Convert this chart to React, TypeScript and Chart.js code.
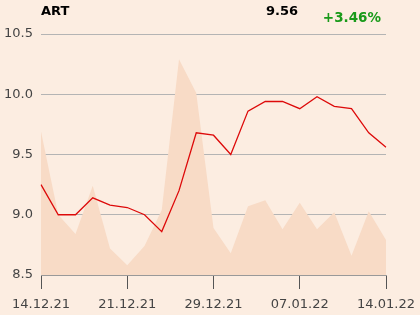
import React, { useEffect, useRef } from "react";
import { Chart, registerables } from "chart.js";

Chart.register(...registerables);

const categories = [
  "14.12.21", "15.12.21", "16.12.21", "17.12.21", "20.12.21",
  "21.12.21", "22.12.21", "23.12.21", "27.12.21", "28.12.21",
  "29.12.21", "30.12.21", "03.01.22", "04.01.22", "05.01.22",
  "07.01.22", "10.01.22", "11.01.22", "12.01.22", "13.01.22",
  "14.01.22",
];
const priceValues = [
  9.25, 9.0, 9.0, 9.14, 9.08, 9.06, 9.0, 8.86, 9.2, 9.68,
  9.66, 9.5, 9.86, 9.94, 9.94, 9.88, 9.98, 9.9, 9.88, 9.68, 9.56,
];
const volumeValues = [
  9.69, 9.0, 8.84, 9.24, 8.72, 8.58, 8.74, 9.04, 10.29, 10.01,
  8.89, 8.68, 9.07, 9.12, 8.88, 9.1, 8.88, 9.02, 8.66, 9.03, 8.79,
];
const yTicks = [8.5, 9.0, 9.5, 10.0, 10.5];
const titleText = "ART";
const lastPriceText = "9.56";
const changeText = "+3.46%";

export default function App() {
  const ref = useRef<HTMLCanvasElement | null>(null);
  useEffect(() => {
    document.body.style.margin = "0";
    document.body.style.background = "#fcede1";
    const canvas = ref.current!;
    const headerPlugin = {
      id: "header",
      beforeDraw(chart: any) {
        const ctx = chart.ctx;
        ctx.save();
        ctx.fillStyle = "#fcede1";
        ctx.fillRect(0, 0, chart.width, chart.height);
        ctx.restore();
      },
      afterDraw(chart: any) {
        const ctx = chart.ctx;
        ctx.save();
        ctx.font = "bold 13px 'DejaVu Sans'";
        ctx.fillStyle = "#000";
        ctx.textBaseline = "alphabetic";
        ctx.textAlign = "left";
        ctx.fillText(titleText, 41, 15);
        ctx.textAlign = "right";
        ctx.fillText(lastPriceText, 298, 15);
        ctx.fillStyle = "#1a9a1a";
        ctx.font = "bold 13.5px 'DejaVu Sans'";
        ctx.fillText(changeText, 381, 22);
        ctx.restore();
      },
    };
    const chart = new Chart(canvas, {
      type: "line",
      data: {
        labels: categories,
        datasets: [
          {
            data: priceValues,
            borderColor: "#dd0a0a",
            borderWidth: 1.3,
            pointRadius: 0,
            fill: false,
            tension: 0,
            order: 1,
          },
          {
            data: volumeValues,
            borderWidth: 0,
            backgroundColor: "#f8dbc6",
            pointRadius: 0,
            fill: "start",
            tension: 0,
            order: 2,
          },
        ],
      },
      options: {
        animation: false,
        responsive: false,
        devicePixelRatio: 1,
        layout: { padding: { top: 34, right: 34, left: 0, bottom: 0 } },
        plugins: { legend: { display: false }, tooltip: { enabled: false } },
        scales: {
          x: {
            offset: false,
            afterFit(scale: any) {
              scale.height = 40;
              scale.paddingLeft = 0;
              scale.paddingRight = 0;
            },
            grid: {
              drawOnChartArea: false,
              drawTicks: true,
              tickLength: 14,
              color: "#555",
            },
            border: { display: true, color: "#999" },
            ticks: {
              autoSkip: false,
              maxRotation: 0,
              padding: 8,
              color: "#444",
              font: { family: "'DejaVu Sans'", size: 13 },
              callback(_v: any, i: number) {
                return i % 5 === 0 ? categories[i] : null;
              },
            },
          },
          y: {
            min: yTicks[0],
            max: yTicks[yTicks.length - 1],
            afterFit(scale: any) {
              scale.width = 41;
              scale.paddingTop = 0;
              scale.paddingBottom = 0;
            },
            afterBuildTicks(scale: any) {
              scale.ticks = yTicks.map((v) => ({ value: v }));
            },
            grid: { color: "#b4b4b4", drawTicks: false },
            border: { display: false },
            ticks: {
              padding: 8,
              color: "#444",
              font: { family: "'DejaVu Sans'", size: 13 },
              callback(v: any) {
                return Number(v).toFixed(1);
              },
            },
          },
        },
      },
      plugins: [headerPlugin],
    });
    return () => chart.destroy();
  }, []);
  return <canvas ref={ref} width={420} height={315} style={{ display: "block" }} />;
}
